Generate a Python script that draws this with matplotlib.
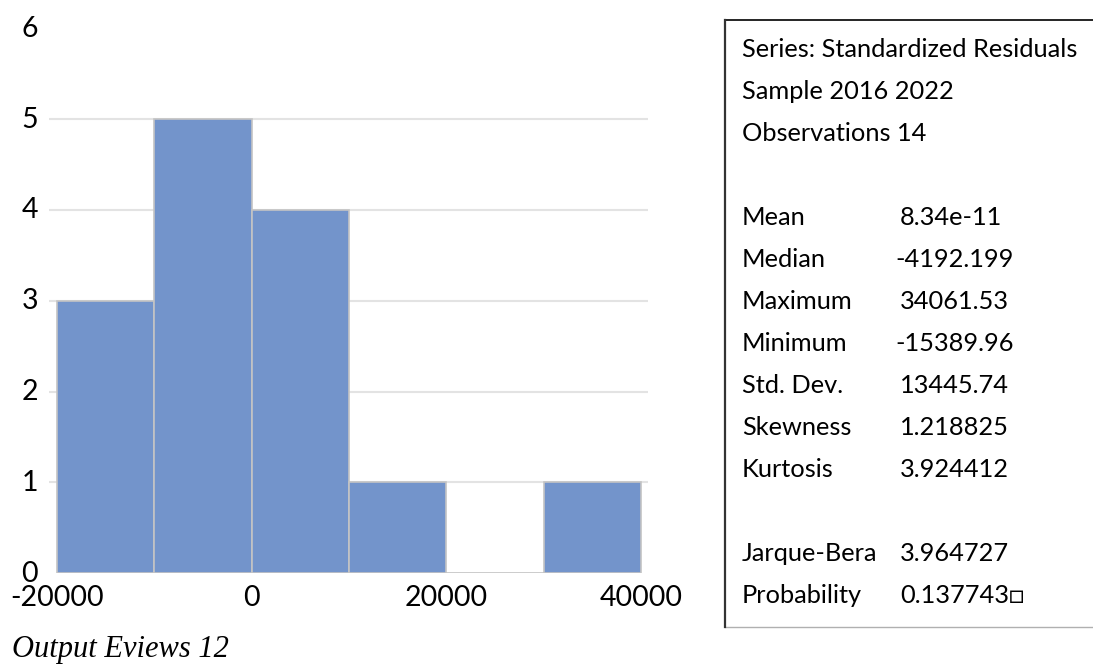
import numpy as np
import matplotlib
matplotlib.use("Agg")
import matplotlib.pyplot as plt
from matplotlib.lines import Line2D
from matplotlib.transforms import ScaledTranslation

plt.rcParams.update({"font.family": ["Lato", "DejaVu Sans"], "font.size": 18})

BAR = "#7394CB"; EDGE = "#C4C4C4"; GRID = "#E3E3E3"

bin_edges = [-20000, -10000, 0, 10000, 20000, 30000, 40000]
counts = [3, 5, 4, 1, 0, 1]
yticks = [0, 1, 2, 3, 4, 5, 6]
xticks = [-20000, 0, 20000, 40000]

stat_header = ["Series: Standardized Residuals", "Sample 2016 2022", "Observations 14"]
stat_names = ["Mean", "Median", "Maximum", "Minimum", "Std. Dev.", "Skewness", "Kurtosis"]
stat_values = ["8.34e-11", "-4192.199", "34061.53", "-15389.96", "13445.74", "1.218825", "3.924412"]
test_names = ["Jarque-Bera", "Probability"]
test_values = ["3.964727", "0.137743\u25a1"]

W, H = 1093, 664
fig = plt.figure(figsize=(W / 100, H / 100), dpi=100)

def fx(p):
    return p / W

def fy(p):
    return 1 - p / H

ax = fig.add_axes([fx(49), fy(573), fx(648) - fx(49), fy(28.5) - fy(573)])
ax.bar(bin_edges[:-1], counts, width=np.diff(bin_edges), align="edge",
       color=BAR, edgecolor=EDGE, linewidth=1.2, zorder=2)
for v in yticks[1:-1]:
    ax.axhline(v, color=GRID, linewidth=1.5, zorder=1)
ax.set_xlim(-20822, 40720)
ax.set_ylim(0, 6)
ax.set_yticks(yticks)
ax.set_xticks(xticks)
ax.set_xticklabels([str(t) for t in xticks])
ax.tick_params(length=0, labelsize=20.5, colors="black")
ax.tick_params(axis="y", pad=8)
ax.tick_params(axis="x", pad=9)
up = ScaledTranslation(0, 2 / 100, fig.dpi_scale_trans)
for lab in ax.get_yticklabels():
    lab.set_transform(lab.get_transform() + up)
for s in ax.spines.values():
    s.set_visible(False)

fig.text(fx(12), fy(657), "Output Eviews 12", family="Liberation Serif", style="italic",
         fontsize=22, va="baseline", ha="left")

# stats box, open on the right
fig.add_artist(Line2D([fx(725), 1], [fy(20), fy(20)], color="black", lw=1.2))
fig.add_artist(Line2D([fx(725), 1], [fy(627), fy(627)], color="#B0B0B0", lw=1.0))
fig.add_artist(Line2D([fx(725), fx(725)], [fy(20), fy(627)], color="#333333", lw=1.6))

FS = 18.3
lx = 742
row = 42
base0 = 57
for i, t in enumerate(stat_header):
    fig.text(fx(lx), fy(base0 + row * i), t, fontsize=FS, va="baseline")
for i, (n, v) in enumerate(zip(stat_names, stat_values)):
    y = fy(base0 + row * (4 + i))
    fig.text(fx(lx), y, n, fontsize=FS, va="baseline")
    fig.text(fx(895 if v.startswith("-") else 900), y, v, fontsize=FS, va="baseline")
for i, (n, v) in enumerate(zip(test_names, test_values)):
    y = fy(base0 + row * (12 + i))
    fig.text(fx(lx), y, n, fontsize=FS, va="baseline")
    fig.text(fx(900), y, v, fontsize=FS, va="baseline")

fig.savefig("out.png", dpi=100)
